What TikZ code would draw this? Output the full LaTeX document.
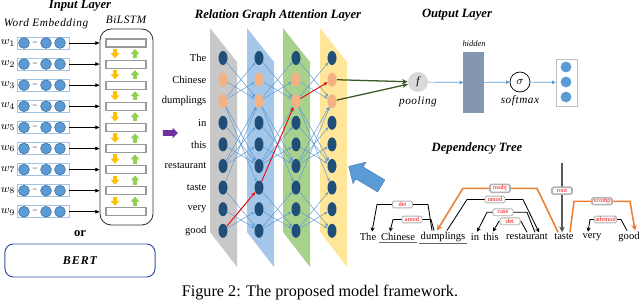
\documentclass[tikz,border=0pt]{standalone}
\usepackage{fontspec}
\setmainfont{Liberation Serif}
\usetikzlibrary{shapes.geometric, shapes.arrows, arrows.meta, positioning}

\definecolor{navy}{HTML}{1F4E79}
\definecolor{peach}{HTML}{F4B183}
\definecolor{skyblue}{HTML}{5B9BD5}
\definecolor{embline}{HTML}{9DC3E6}
\definecolor{panelgray}{HTML}{C8C8C8}
\definecolor{panelblue}{HTML}{A4C6E8}
\definecolor{panelgreen}{HTML}{A9D18E}
\definecolor{panelyellow}{HTML}{FFE699}
\definecolor{lstmorange}{HTML}{FFC000}
\definecolor{lstmgreen}{HTML}{92D050}
\definecolor{bertline}{HTML}{2F5597}
\definecolor{arrowpurple}{HTML}{7030A0}
\definecolor{deporange}{HTML}{ED7D31}
\definecolor{poolgreen}{HTML}{385723}
\definecolor{hiddenfill}{HTML}{8497B0}

\begin{document}
\begin{tikzpicture}[
		x=0.025cm, y=-0.025cm,
		% Titles of the four parts
		titlestyle/.style={font=\fontsize{9}{10}\selectfont\bfseries\itshape},
		subtitle/.style={font=\fontsize{8}{10}\selectfont\itshape\addfontfeature{LetterSpace=5}},
		wordstyle/.style={font=\fontsize{7.5}{9}\selectfont, inner sep=1pt},
		% Input layer
		embbox/.style={draw=embline, fill=white, line width=0.6pt, minimum width=1.3cm, minimum height=0.3cm, inner sep=0},
		embdot/.style={circle, draw=skyblue!70!black, fill=skyblue, line width=0.4pt, minimum size=0.27cm, inner sep=0},
		cellstyle/.style={draw=gray!80, fill=white, line width=0.8pt, minimum width=1cm, minimum height=0.2cm, inner sep=0},
		lstmarrow/.style={draw=#1, line width=2.5pt, -{Triangle[length=3.5pt,width=6pt]}},
		inarrow/.style={-{Triangle[length=3pt,width=2.5pt]}, line width=0.5pt},
		% Graph attention layer
		gnode/.style={ellipse, fill=#1, minimum width=0.225cm, minimum height=0.35cm, inner sep=0},
		attedge/.style={draw=skyblue, line width=0.35pt, -{Stealth[length=2.5pt,width=2pt]}},
		rededge/.style={draw=red, line width=0.6pt, -{Stealth[length=3pt,width=2.5pt]}},
		% Output layer
		outarrow/.style={draw=skyblue, line width=0.5pt, -{Triangle[length=2.5pt,width=2.5pt]}},
		% Dependency tree
		depk/.style={draw=black, line width=0.6pt, -{Stealth[length=3pt,width=3pt]}},
		depo/.style={draw=deporange, line width=1.1pt, -{Stealth[length=4pt,width=4pt]}},
		deplab/.style={draw=gray!60, fill=white, rounded corners=1pt, text=red, font=\fontsize{4.5}{5}\selectfont,
			inner sep=0.8pt, minimum width=0.5cm, minimum height=0.17cm}
	]
	\useasboundingbox (0,0) rectangle (640,301);

	% --- INPUT LAYER ---
	\node[titlestyle] (tin) at (80,6) {Input Layer};
	\node[subtitle] (twe) at (46,24) {Word Embedding};
	\node[subtitle] (tbl) at (126,20) {BiLSTM};
	\node[draw=black!80, line width=0.6pt, rounded corners=8pt, minimum width=1.325cm, minimum height=4.9cm] (lstm) at (126.5,127) {};

	\foreach \i in {1,...,9} {
		\pgfmathsetmacro\yy{43+(\i-1)*21.1}
		\node[font=\fontsize{8}{9}\selectfont] (w\i) at (8,\yy) {$w_{\i}$};
		\node[embbox] (e\i) at (43,\yy) {};
		\node[embdot] (a\i) at (24,\yy) {};
		\node[font=\fontsize{6}{6}\selectfont] (d\i) at (35,\yy) {--};
		\node[embdot] (b\i) at (46,\yy) {};
		\node[embdot] (c\i) at (60,\yy) {};
		\node[cellstyle] (h\i) at (126,\yy) {};
		\draw[inarrow] (e\i.east) -- (lstm.west |- e\i);
	}
	\foreach \i [evaluate=\i as \j using int(\i+1)] in {1,...,8} {
		\draw[lstmarrow=lstmorange] ([xshift=-0.275cm,yshift=-1pt]h\i.south) -- ([xshift=-0.275cm,yshift=1pt]h\j.north);
		\draw[lstmarrow=lstmgreen] ([xshift=0.225cm,yshift=1pt]h\j.north) -- ([xshift=0.225cm,yshift=-1pt]h\i.south);
	}

	\node[font=\fontsize{9}{10}\selectfont\bfseries] (or) at (80,234) {or};
	\node[draw=bertline, line width=0.7pt, rounded corners=6pt, minimum width=3.75cm, minimum height=0.825cm,
		font=\fontsize{8.5}{10}\selectfont\bfseries\itshape\addfontfeature{LetterSpace=8}] (bert) at (80,260.5) {BERT};

	\node[single arrow, fill=arrowpurple, minimum height=0.375cm, single arrow head extend=0.06cm,
		inner xsep=0.02cm, inner ysep=0.065cm] (parr) at (169,133) {};

	% --- RELATION GRAPH ATTENTION LAYER ---
	\node[titlestyle] (tgat) at (278,15) {Relation Graph Attention Layer};
	\foreach \x/\col in {210/panelgray, 247/panelblue, 283/panelgreen, 320/panelyellow}
		\fill[\col] (\x,28) -- (\x+27,62) -- (\x+27,267) -- (\x,232) -- cycle;

	\foreach \r/\w in {1/The, 2/Chinese, 3/dumplings, 4/in, 5/this, 6/restaurant, 7/taste, 8/very, 9/good}
		\node[wordstyle, anchor=east] (t\r) at (208,{58+(\r-1)*21.6}) {\w};

	\foreach \c/\x in {1/223, 2/259, 3/296, 4/332} {
		\foreach \r/\f in {1/navy, 2/peach, 3/peach, 4/navy, 5/navy, 6/navy, 7/navy, 8/navy, 9/navy}
			\node[gnode=\f] (n\c-\r) at (\x,{58+(\r-1)*21.6}) {};
	}
	\foreach \c/\d in {1/2, 2/3, 3/4} {
		\foreach \a/\b in {1/3, 3/1, 2/3, 3/2, 3/7, 7/3, 3/6, 6/3, 4/6, 6/4, 5/6, 6/5, 7/9, 9/7, 8/9, 9/8}
			\draw[attedge] (n\c-\a) -- (n\d-\b);
	}
	\draw[rededge] (n1-9) -- (n2-7);
	\draw[rededge] (n2-7) -- (n3-3);
	\draw[rededge] (n3-3) -- (n4-2);

	% --- OUTPUT LAYER ---
	\node[titlestyle] (tout) at (457,15) {Output Layer};
	\node[circle, fill=gray!30, minimum size=0.5cm, inner sep=0, font=\fontsize{8}{9}\selectfont\itshape] (pool) at (418,82) {f};
	\node[subtitle] (tpool) at (418,102) {pooling};
	\node[fill=hiddenfill, minimum width=0.5cm, minimum height=1.525cm, inner sep=0] (hid) at (473.5,82.5) {};
	\node[font=\fontsize{6}{7}\selectfont\itshape] (thid) at (474,44) {hidden};
	\node[circle, draw=black, line width=0.5pt, minimum size=0.5cm, inner sep=0, font=\fontsize{8}{9}\selectfont] (sig) at (520,82) {$\sigma$};
	\node[subtitle] (tsig) at (520,101) {softmax};
	\node[draw=gray!50, line width=0.6pt, minimum width=0.525cm, minimum height=1.175cm, inner sep=0] (outb) at (566.5,82.5) {};
	\foreach \k/\yy in {1/67, 2/82, 3/97}
		\node[circle, fill=skyblue, minimum size=0.27cm, inner sep=0] (o\k) at (566,\yy) {};

	\draw[poolgreen, line width=0.9pt, -{Stealth[length=4pt,width=3.5pt]}] (n4-2) -- (pool);
	\draw[poolgreen, line width=0.9pt, -{Stealth[length=4pt,width=3.5pt]}] (n4-3) -- (pool);
	\draw[outarrow] (pool) -- (hid);
	\draw[outarrow] (hid) -- (sig);
	\draw[outarrow] (sig) -- (outb);

	\node[single arrow, fill=skyblue, draw=skyblue!80!black, line width=0.3pt, rotate=149, minimum height=0.95cm,
		single arrow head extend=0.14cm, inner xsep=0.02cm, inner ysep=0.17cm] (barr) at (368,178) {};

	% --- DEPENDENCY TREE ---
	\node[titlestyle] (tdep) at (477,148) {Dependency Tree};
	\foreach \n/\x/\w in {dThe/368/The, dChi/398/Chinese, dDum/443/dumplings, dIn/475/in, dThis/491/this,
		dRest/527/restaurant, dTaste/564/taste, dVery/592/very, dGood/629/good}
		\node[wordstyle] (\n) at (\x,237) {\w};
	\draw[gray!80!black, line width=0.6pt] (dChi.south west) -- (dChi.south east);
	\draw[gray!80!black, line width=0.6pt] (dDum.south west) -- (dDum.south east);

	\draw[depk] ([xshift=-0.275cm]dDum.north) -- ++(-4,-26) -- node[deplab] {det} ++(-51,0) -- ([xshift=0.1cm]dThe.north);
	\draw[depk] ([xshift=-0.225cm]dDum.north) -- ++(-3,-11) -- node[deplab] {amod} ++(-38,0) -- ([xshift=-0.2cm]dChi.north);
	\draw[depo] ([xshift=-0.15cm]dTaste.north) -- ++(-21,-44) -- node[deplab] {nsubj} ++(-74,0) -- ([xshift=-0.15cm]dDum.north);
	\draw[depk] ([xshift=0.1cm]dDum.north) -- ++(20,-31) -- node[deplab] {nmod} ++(56,0) -- ([xshift=0.3cm]dRest.north);
	\draw[depk] ([xshift=0.2cm]dRest.north) -- ++(-8,-20) -- node[deplab, pos=0.6] {case} ++(-40,0) -- ([xshift=0.05cm]dIn.north);
	\draw[depk] ([xshift=0cm]dRest.north) -- ++(-6,-11) -- node[deplab] {det} ++(-22,0) -- ([xshift=0.05cm]dThis.north);
	\coordinate (rootTop) at (562,163);
	\draw[gray!70!black, line width=1.2pt, -{Stealth[length=4pt,width=4pt]}] (rootTop) -- node[deplab, pos=0.4] {root} (rootTop |- dTaste.north);
	\draw[depo] ([xshift=0.15cm]dTaste.north) -- ++(4,-31) -- node[deplab] {xcomp} ++(56,0) -- ([xshift=0.15cm]dGood.north);
	\draw[depk] ([xshift=-0.05cm]dGood.north) -- ++(-6,-11) -- node[deplab] {advmod} ++(-31,0) -- ([xshift=-0.1cm]dVery.north);

	% --- CAPTION ---
	\node[font=\fontsize{11.5}{13}\selectfont] (cap) at (320,293) {Figure 2: The proposed model framework.};
\end{tikzpicture}
\end{document}
